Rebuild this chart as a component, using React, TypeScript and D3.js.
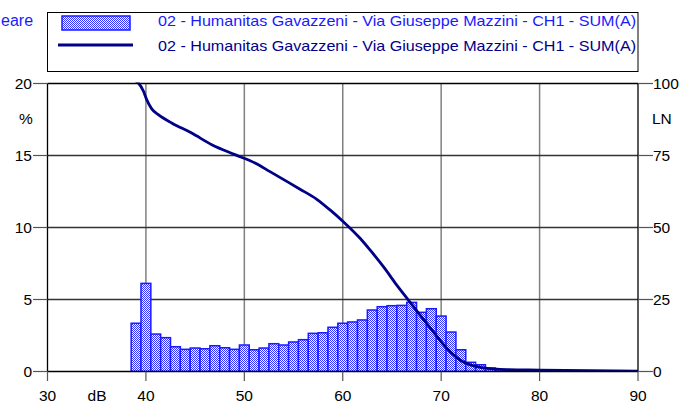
import React from 'react';
import * as d3 from 'd3';

const binLevels = [39, 40, 41, 42, 43, 44, 45, 46, 47, 48, 49, 50, 51, 52, 53, 54, 55, 56, 57, 58, 59, 60, 61, 62, 63, 64, 65, 66, 67, 68, 69, 70, 71, 72, 73, 74, 75, 76, 77, 78, 79, 80, 81, 82, 83];
const binPercent = [3.35, 6.12, 2.6, 2.35, 1.72, 1.54, 1.63, 1.58, 1.79, 1.65, 1.54, 1.84, 1.51, 1.63, 1.93, 1.84, 2.05, 2.21, 2.65, 2.69, 3.07, 3.35, 3.44, 3.58, 4.27, 4.5, 4.57, 4.59, 4.8, 4.11, 4.36, 3.85, 2.74, 1.51, 0.64, 0.47, 0.24, 0.15, 0.1, 0.1, 0.08, 0.06, 0.05, 0.04, 0.03];

const lnLevels = [38.9, 39.23, 39.74, 40.08, 40.59, 41.26, 42.62, 44.65, 46.69, 49.05, 51.09, 52.61, 53.96, 55.66, 57.36, 58.71, 60.06, 61.76, 62.77, 64.13, 65.49, 66.67, 67.86, 69.21, 70.57, 71.92, 73.62, 75.99, 80.05, 90];
const lnValues = [101, 100.2, 97.4, 94.4, 91.2, 89.2, 86.3, 82.8, 78.75, 75.3, 72.4, 69.4, 66.7, 63.3, 59.8, 56.1, 52.0, 46.25, 42.2, 36.4, 30.0, 24.8, 19.6, 13.8, 8.06, 4.0, 1.67, 0.76, 0.5, 0.15];

const xTicks = [30, 40, 50, 60, 70, 80, 90];
const yTicksLeft = [0, 5, 10, 15, 20];
const yTicksRight = [0, 25, 50, 75, 100];
const legendLabel = '02 - Humanitas Gavazzeni - Via Giuseppe Mazzini - CH1 - SUM(A)';
const titleFragment = 'eare';

const W = 695;
const H = 405;
const L = 47.5;
const R = 638;
const T = 83.5;
const B = 371.5;
const FONT = 'Liberation Sans, Arial, sans-serif';
const FS = 15.5;

export default function App() {
  const x = d3.scaleLinear().domain([30, 90]).range([L, R]);
  const y = d3.scaleLinear().domain([0, 20]).range([B, T]);
  const yR = d3.scaleLinear().domain([0, 100]).range([B, T]);

  const lineGen = d3
    .line<number>()
    .x((_, i) => x(lnLevels[i]))
    .y((d) => yR(d))
    .curve(d3.curveMonotoneX);
  const path = lineGen(lnValues) || '';

  return (
    <div style={{ position: 'fixed', left: 0, top: 0 }}>
      <svg width={W} height={H} style={{ display: 'block', background: '#fff' }} fontFamily={FONT}>
        <defs>
          <pattern id="chk" width="2" height="2" patternUnits="userSpaceOnUse">
            <rect x="0" y="0" width="2" height="2" fill="#ffffff" />
            <rect x="0" y="0" width="1" height="1" fill="#3030ff" />
            <rect x="1" y="1" width="1" height="1" fill="#3030ff" />
          </pattern>
          <clipPath id="plot">
            <rect x={L} y={T - 1} width={R - L} height={B - T + 1} />
          </clipPath>
        </defs>

        {/* title fragment */}
        <text x={1} y={26} fontSize={16} fill="#1a1aff" textAnchor="start">{titleFragment}</text>

        {/* legend */}
        <rect x={L} y={12.5} width={R - L} height={59} fill="#fff" stroke="#000" strokeWidth={1} />
        <rect x={62} y={16} width={68} height={14} fill="url(#chk)" stroke="#1a1aff" strokeWidth={1.5} />
        <line x1={58} x2={133} y1={45} y2={45} stroke="#000088" strokeWidth={3} />
        <text x={158} y={25.5} fontSize={15} fill="#1a1aff" textLength={478} lengthAdjust="spacingAndGlyphs">{legendLabel}</text>
        <text x={158} y={50.5} fontSize={15} fill="#000088" textLength={478} lengthAdjust="spacingAndGlyphs">{legendLabel}</text>

        {/* grid */}
        {xTicks.filter((t) => t > 30 && t < 90).map((t) => (
          <line key={'gx' + t} x1={x(t)} x2={x(t)} y1={T} y2={B} stroke="#808080" strokeWidth={1.5} />
        ))}
        {yTicksLeft.filter((t) => t > 0 && t < 20).map((t) => (
          <line key={'gy' + t} x1={L} x2={R} y1={y(t)} y2={y(t)} stroke="#333" strokeWidth={1.4} />
        ))}

        {/* bars */}
        <g clipPath="url(#plot)">
          {binLevels.map((lv, i) => (
            <rect
              key={'b' + lv}
              x={x(lv - 0.5)}
              y={y(binPercent[i])}
              width={x(lv + 0.5) - x(lv - 0.5)}
              height={B - y(binPercent[i])}
              fill="url(#chk)"
              stroke="#1a1aff"
              strokeWidth={1.5}
            />
          ))}
          <path d={path} fill="none" stroke="#000088" strokeWidth={2.8} />
        </g>

        {/* frame */}
        <line x1={L} x2={R} y1={T} y2={T} stroke="#000" strokeWidth={1.3} />
        <line x1={L} x2={R} y1={B} y2={B} stroke="#000" strokeWidth={1.3} />
        <line x1={L} x2={L} y1={T} y2={B} stroke="#000" strokeWidth={1.3} />
        <line x1={R} x2={R} y1={T} y2={B} stroke="#000" strokeWidth={1.3} />

        {/* left axis */}
        {yTicksLeft.map((t) => (
          <g key={'yl' + t}>
            <line x1={33} x2={L} y1={y(t)} y2={y(t)} stroke="#555" strokeWidth={1.2} />
            <text x={32} y={y(t) + 5.5} fontSize={FS} textAnchor="end" fill="#000">{t}</text>
          </g>
        ))}
        <text x={26} y={124} fontSize={FS} textAnchor="middle" fill="#000">%</text>

        {/* right axis */}
        {yTicksRight.map((t) => (
          <g key={'yr' + t}>
            <line x1={R} x2={653} y1={yR(t)} y2={yR(t)} stroke="#555" strokeWidth={1.2} />
            <text x={653} y={yR(t) + 5.5} fontSize={FS} textAnchor="start" fill="#000">{t}</text>
          </g>
        ))}
        <text x={652} y={124} fontSize={FS} textAnchor="start" fill="#000">LN</text>

        {/* bottom axis */}
        {xTicks.map((t) => (
          <g key={'xb' + t}>
            <line x1={x(t)} x2={x(t)} y1={B} y2={381} stroke="#555" strokeWidth={1.2} />
            <text x={x(t)} y={401} fontSize={FS} textAnchor="middle" fill="#000">{t}</text>
          </g>
        ))}
        <text x={97} y={401} fontSize={FS} textAnchor="middle" fill="#000">dB</text>
      </svg>
    </div>
  );
}
